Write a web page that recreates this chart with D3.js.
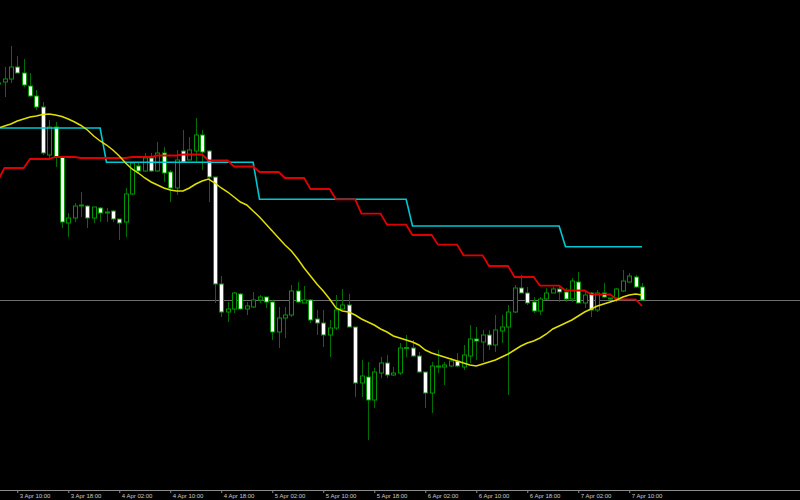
<!DOCTYPE html>
<html>
<head>
<meta charset="utf-8">
<script src="https://cdn.jsdelivr.net/npm/d3@7"></script>
<style>
html,body{margin:0;padding:0;background:#000;}
svg{display:block;}
</style>
</head>
<body>
<div id="chart"></div>
<script>
// Hourly candles, first one at 3 Apr 07:00 (price units are abstract points)
const startTime = Date.UTC(2021, 3, 3, 7);
const open  = [416,418,421,433,427,414,404,393,345,373,343,277,282,294,294,282,292,287,289,281,278,306,334,329,342,329,347,328,312,349,340,349,365,349,323,216,188,191,206,191,193,200,203,198,168,182,185,209,197,200,181,177,165,172,191,195,173,117,123,100,127,137,125,127,152,152,144,128,107,134,133,134,139,133,144,161,158,165,155,169,173,188,212,207,198,189,201,207,211,208,201,218,197,207,190,207,202,202,209,218,223,213];
const high  = [419,433,454,444,441,427,410,398,380,378,343,287,297,308,295,293,293,292,290,281,312,338,337,347,347,358,353,330,350,370,363,382,370,350,323,224,198,208,207,198,208,205,203,200,193,193,215,218,214,201,190,190,180,205,211,206,173,140,138,132,143,145,133,157,165,160,148,128,138,150,138,142,147,155,175,173,170,170,185,185,195,215,225,213,203,203,212,213,215,212,222,228,208,208,210,217,202,212,230,227,225,217];
const low   = [414,403,417,427,413,403,390,345,342,333,272,263,278,283,272,277,278,278,278,260,263,305,327,328,328,328,318,298,305,337,340,338,330,298,197,183,178,187,190,185,192,197,192,160,152,162,183,197,197,177,165,153,143,170,190,173,103,103,60,92,122,122,124,125,143,143,127,92,87,127,115,133,133,130,137,140,138,150,148,157,105,187,207,195,187,185,200,207,198,198,198,197,192,183,188,202,200,198,208,217,212,200];
const close = [417,421,433,427,415,404,393,347,373,343,278,282,294,295,282,293,287,288,281,277,306,337,329,342,329,347,327,312,340,338,350,365,348,323,216,188,191,207,191,194,200,203,198,168,182,185,209,198,200,180,177,165,172,190,195,173,117,124,100,128,137,125,127,152,152.5,144,128,107,134,133,135,139,134,145,161,159,165,155,170,173,188,212,207,197,189,201,207,211,208,201,219,197,205,190,207,203,201,211,219,224,213,200];
// Indicators
const maYellow = [372,374,376,379,381,383,384,385.5,386,385,383.5,381,378,374.5,370,364,359,355,350,344,337,331,327,322,318,315,312,310,309,309,312,316,319,321,317,312,308,303,298,295,289,283,276,269,262,255,249,241,232,224,216,209,201,192,189,188,185,181,178,175,171,168,164,162,160,158,155,150,147,145,143,141,139,137,135,134,136,138,140,143,146,150,154,157,159,162,166,171,174,177,180,184,188,191,194,196,198,200,203,205,206,205];
const stopCyan = [372,372,372,372,372,372,372,372,372,372,372,372,372,372,372,372,372,
  337.7,337.7,337.7,337.7,337.7,337.7,337.7,337.7,337.7,337.7,337.7,337.7,337.7,337.7,337.7,337.7,337.7,337.7,337.7,337.7,337.7,337.7,337.7,337.7,
  300.7,300.7,300.7,300.7,300.7,300.7,300.7,300.7,300.7,300.7,300.7,300.7,300.7,300.7,300.7,300.7,300.7,300.7,300.7,300.7,300.7,300.7,300.7,300.7,
  274,274,274,274,274,274,274,274,274,274,274,274,274,274,274,274,274,274,274,274,274,274,274,274,
  253.3,253.3,253.3,253.3,253.3,253.3,253.3,253.3,253.3,253.3,253.3,253.3,253.3];
const stopRed = [320,332,332,332,332,341,341,341,341,343,343,343,343,342,342,342,342,342,342,342,342,343,343,343,343,
  344.5,344.5,344.5,344.5,345.5,345.5,345.5,345.5,339.5,339.5,339.5,339.5,333.5,333.5,333.5,333.5,328,328,328,328,
  322,322,322,322,311,311,311,311,300.7,300.7,300.7,300.7,286.3,286.3,286.3,286.3,275.3,275.3,275.3,275.3,
  265,265,265,265,255.3,255.3,255.3,255.3,244.7,244.7,244.7,244.7,234,234,234,234,223,223,223,223,
  214.3,214.3,214.3,214.3,209.5,209.5,209.5,209.5,205.7,205.7,205.7,205.7,200.7,200.7,200.7,200.7,194];
const bidPrice = 200;
const tickTimes = ["2021-04-03T10:00Z","2021-04-03T18:00Z","2021-04-04T02:00Z","2021-04-04T10:00Z","2021-04-04T18:00Z","2021-04-05T02:00Z","2021-04-05T10:00Z","2021-04-05T18:00Z","2021-04-06T02:00Z","2021-04-06T10:00Z","2021-04-06T18:00Z","2021-04-07T02:00Z","2021-04-07T10:00Z"];
const tickLabels = ["3 Apr 10:00","3 Apr 18:00","4 Apr 02:00","4 Apr 10:00","4 Apr 18:00","5 Apr 02:00","5 Apr 10:00","5 Apr 18:00","6 Apr 02:00","6 Apr 10:00","6 Apr 18:00","7 Apr 02:00","7 Apr 10:00"];

const W = 800, H = 500;
const times = open.map((_, i) => d3.utcHour.offset(new Date(startTime), i));
const candles = open.map((o, i) => ({t: times[i], o, h: high[i], l: low[i], c: close[i]}));

const x = d3.scaleUtc()
  .domain([times[1], times[times.length - 1]])
  .range([4.5, 642]);
const y = d3.scaleLinear().domain([0, 500]).range([500, 0]);

const svg = d3.select("#chart").append("svg")
  .attr("width", W).attr("height", H)
  .style("background", "#000");

// bid line
svg.append("line")
  .attr("x1", 0).attr("x2", W)
  .attr("y1", Math.round(y(bidPrice)) + 0.5).attr("y2", Math.round(y(bidPrice)) + 0.5)
  .attr("stroke", "#6e6e6e").attr("stroke-width", 1);

const cx = d => Math.round(x(d.t)) + 0.5;
const g = svg.append("g");
g.selectAll("line.wick").data(candles).join("line")
  .attr("class", "wick")
  .attr("x1", cx).attr("x2", cx)
  .attr("y1", d => y(d.h)).attr("y2", d => y(d.l))
  .attr("stroke", "#006e00").attr("stroke-width", 1);
g.selectAll("rect.body").data(candles).join("rect")
  .attr("class", "body")
  .attr("x", d => cx(d) - 2)
  .attr("width", 4)
  .attr("y", d => y(Math.max(d.o, d.c)))
  .attr("height", d => Math.max(1, Math.abs(y(d.o) - y(d.c))))
  .attr("fill", d => d.c < d.o ? "#ffffff" : "#000000")
  .attr("stroke", "#009600").attr("stroke-width", 1);

const lineGen = vals => d3.line()
  .x((d, i) => x(times[i]))
  .y(d => y(d))(vals);

svg.append("path").attr("d", lineGen(stopCyan))
  .attr("fill", "none").attr("stroke", "#00c8d2").attr("stroke-width", 1.6);
svg.append("path").attr("d", lineGen(stopRed))
  .attr("fill", "none").attr("stroke", "#e00000").attr("stroke-width", 1.8);
svg.append("path").attr("d", lineGen(maYellow))
  .attr("fill", "none").attr("stroke", "#e0e000").attr("stroke-width", 1.5);

// time axis
const axisY = 490;
svg.append("line").attr("x1", 0).attr("x2", W)
  .attr("y1", axisY + 0.5).attr("y2", axisY + 0.5)
  .attr("stroke", "#8c8c8c");
const ax = svg.append("g").attr("transform", `translate(0,${axisY})`)
  .call(d3.axisBottom(x)
    .tickValues(tickTimes.map(s => new Date(s)))
    .tickFormat((d, i) => tickLabels[i])
    .tickSize(3).tickSizeOuter(0));
ax.select(".domain").remove();
ax.selectAll(".tick line").attr("stroke", "#8c8c8c");
ax.selectAll(".tick text")
  .attr("text-anchor", "start")
  .attr("x", 2).attr("y", 7.5).attr("dy", 0)
  .attr("fill", "#c8c8c8")
  .style("font-family", "'Liberation Sans', Arial, sans-serif")
  .style("font-size", "6px");
</script>
</body>
</html>
